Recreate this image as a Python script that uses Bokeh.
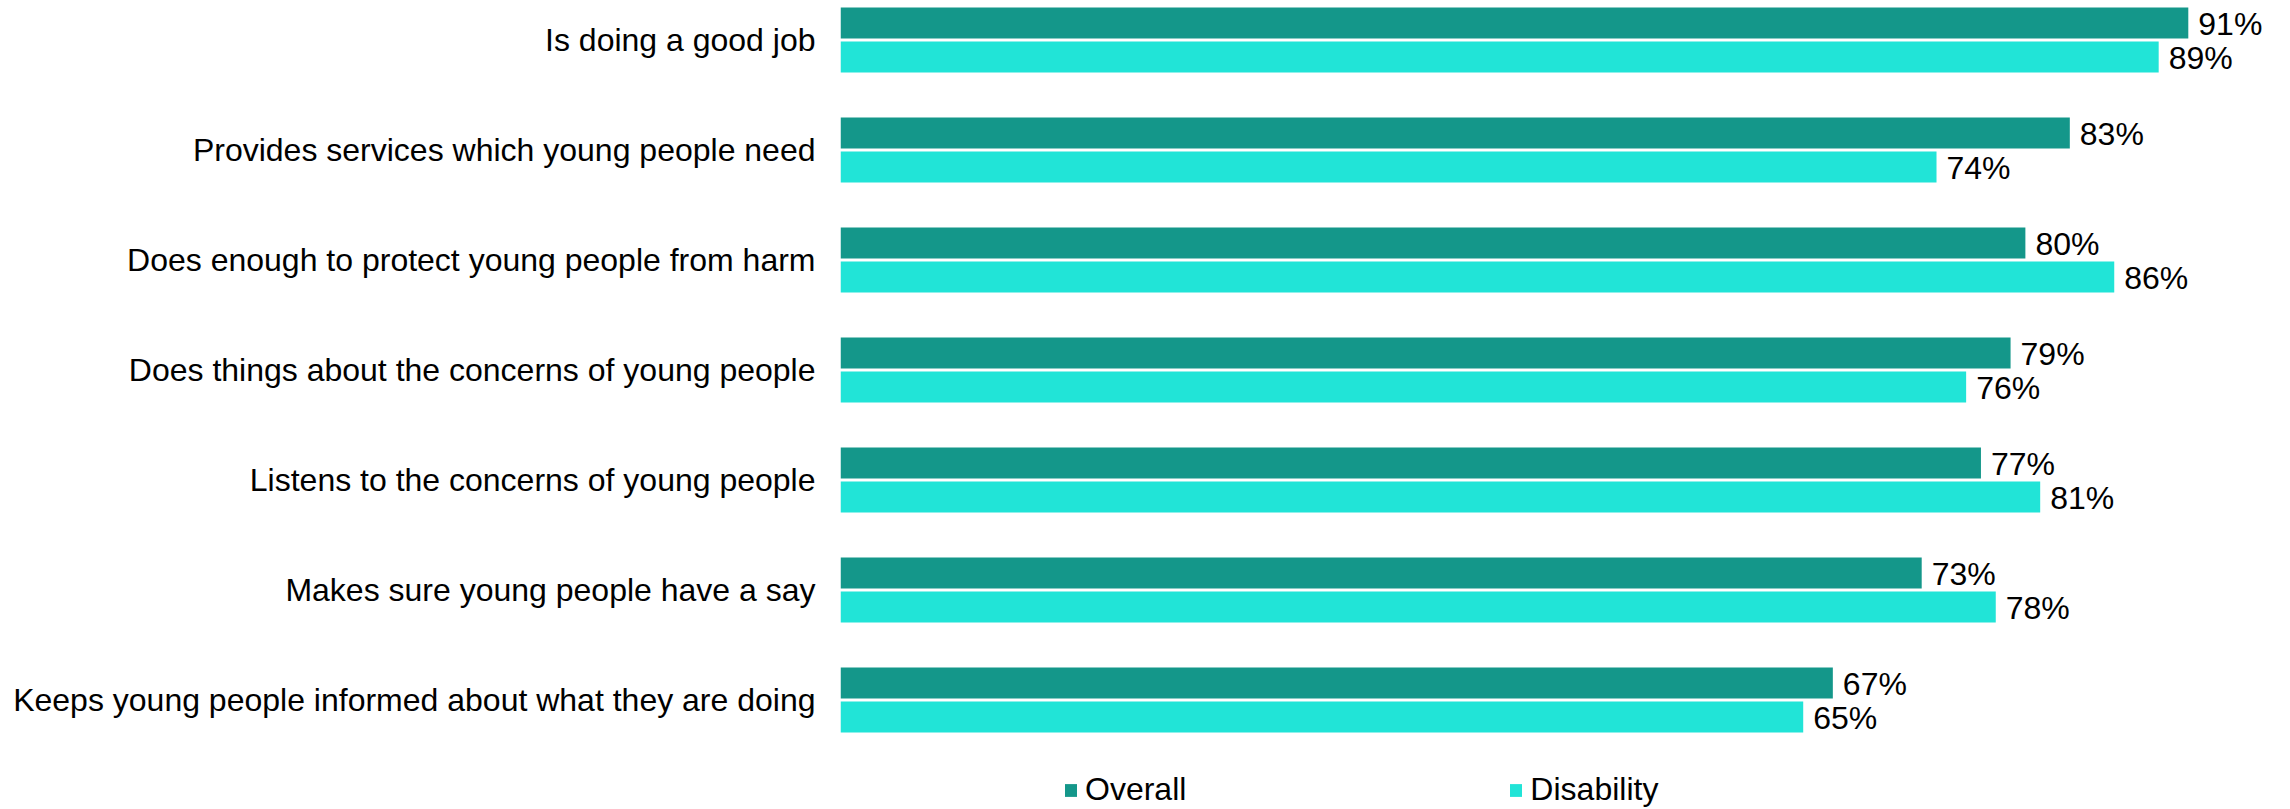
from bokeh.plotting import figure
from bokeh.models import Range1d, Legend, LegendItem, ColumnDataSource, FixedTicker
from bokeh.core.properties import value
from bokeh.embed import file_html
from bokeh.resources import INLINE

categories = [
    "Is doing a good job",
    "Provides services which young people need",
    "Does enough to protect young people from harm",
    "Does things about the concerns of young people",
    "Listens to the concerns of young people",
    "Makes sure young people have a say",
    "Keeps young people informed about what they are doing",
]
overall = [91, 83, 80, 79, 77, 73, 67]
disability = [89, 74, 86, 76, 81, 78, 65]
series_names = ["Overall", "Disability"]
colors = ["#14978A", "#21E4D7"]

FONT = "Liberation Sans"
FS = "32px"
n = len(categories)
pos = [n - 1 - i for i in range(n)]
off = 0.1545
bar_h = 0.282

p = figure(width=2290, height=809, output_backend="svg", toolbar_location=None,
           x_range=Range1d(0, 97.9), y_range=Range1d(-0.9955, 6.359),
           min_border_left=840, min_border_right=0, min_border_top=0, min_border_bottom=0)
p.outline_line_color = None
p.xgrid.visible = False
p.ygrid.visible = False
p.xaxis.visible = False

src_o = ColumnDataSource(dict(y=[v + off for v in pos], right=overall,
                              lab=[f"{v}%" for v in overall]))
src_d = ColumnDataSource(dict(y=[v - off for v in pos], right=disability,
                              lab=[f"{v}%" for v in disability]))

r_o = p.hbar(y="y", right="right", left=0, height=bar_h, source=src_o,
             fill_color=colors[0], line_color=None)
r_d = p.hbar(y="y", right="right", left=0, height=bar_h, source=src_d,
             fill_color=colors[1], line_color=None)

for src in (src_o, src_d):
    p.text(x="right", y="y", text="lab", source=src, x_offset=10, y_offset=1,
           text_baseline="middle", text_align="left",
           text_font=value(FONT), text_font_size=FS, text_color="#000000")

ax = p.yaxis[0]
ax.ticker = FixedTicker(ticks=pos)
ax.major_label_overrides = {p_: c for p_, c in zip(pos, categories)}
ax.major_label_text_font = FONT
ax.major_label_text_font_size = FS
ax.major_label_text_color = "#000000"
ax.axis_line_color = None
ax.major_tick_line_color = None
ax.minor_tick_line_color = None
ax.major_tick_out = 0
ax.major_label_standoff = 25

legend = Legend(items=[LegendItem(label=series_names[0], renderers=[r_o]),
                       LegendItem(label=series_names[1], renderers=[r_d])],
                orientation="horizontal", location=(223, 1),
                glyph_width=15, glyph_height=16, label_standoff=7, spacing=322,
                padding=0, margin=0, border_line_color=None,
                background_fill_alpha=0,
                label_text_font=FONT, label_text_font_size=FS,
                label_text_color="#000000")
p.add_layout(legend, "center")

open("out.html", "w").write(file_html(p, INLINE))
